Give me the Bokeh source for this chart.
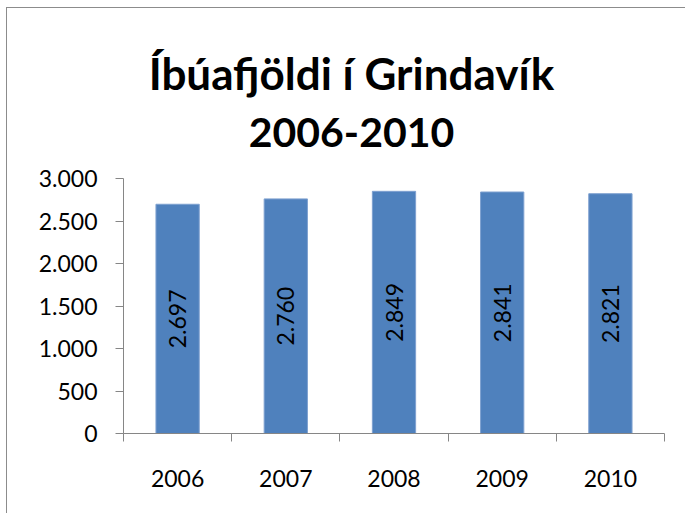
import math
from bokeh.plotting import figure
from bokeh.models import Range1d, FixedTicker, ColumnDataSource
from bokeh.core.properties import value
from bokeh.embed import file_html
from bokeh.resources import INLINE

title_line1 = "Íbúafjöldi í Grindavík"
title_line2 = "2006-2010"
years = ["2006", "2007", "2008", "2009", "2010"]
population = [2697, 2760, 2849, 2841, 2821]
population_labels = ["2.697", "2.760", "2.849", "2.841", "2.821"]
y_ticks = [0, 500, 1000, 1500, 2000, 2500, 3000]
y_tick_labels = ["0", "500", "1.000", "1.500", "2.000", "2.500", "3.000"]

FONT = "Lato"
AXIS_COLOR = "#868686"

# layout (page pixels)
ORIGIN_X, ORIGIN_Y = 7, 8
W, H = 690, 515
FRAME_L, FRAME_R = 123, 664
FRAME_TOP, AXIS_TOP, AXIS_BOTTOM = 18, 178, 433
TITLE_CX, TITLE1_BASE, TITLE2_BASE = 351, 72, 132

y_max = y_ticks[-1]
units_per_px = y_max / (AXIS_BOTTOM - AXIS_TOP)
y_top = y_max + (AXIS_TOP - FRAME_TOP) * units_per_px
x0, x1 = 0.5, len(years) + 0.5
title_x = x0 + (TITLE_CX - FRAME_L) / (FRAME_R - FRAME_L) * (x1 - x0)
title1_y = y_max + (AXIS_TOP - TITLE1_BASE) * units_per_px
title2_y = y_max + (AXIS_TOP - TITLE2_BASE) * units_per_px

xpos = [i + 1 for i in range(len(years))]
src = ColumnDataSource(dict(
    x=xpos, top=population, mid=[v / 2 for v in population], lab=population_labels))

p = figure(width=W, height=H, output_backend="svg", toolbar_location=None,
           x_range=Range1d(x0, x1), y_range=Range1d(0, y_top),
           min_border_left=FRAME_L - ORIGIN_X, min_border_right=ORIGIN_X + W - FRAME_R,
           min_border_top=FRAME_TOP - ORIGIN_Y,
           min_border_bottom=ORIGIN_Y + H - AXIS_BOTTOM)
p.styles = {"margin-left": f"{ORIGIN_X}px", "margin-top": f"{ORIGIN_Y}px",
            "box-shadow": "-1px -1px 0 0 #8c8c8c"}
p.outline_line_color = None
p.xgrid.visible = False
p.ygrid.visible = False
p.background_fill_color = "white"
p.border_fill_color = "white"

p.vbar(x="x", top="top", width=0.4, bottom=0, source=src,
       fill_color="#4F81BD", line_color="#7FA1D0", line_width=1)
p.text(x="x", y="mid", text="lab", source=src, angle=math.pi / 2,
       text_align="center", text_baseline="middle",
       text_font=value(FONT), text_font_size="23px", text_color="black")

# chart title (two lines)
p.text(x=[title_x], y=[title1_y], text=[title_line1], text_align="center",
       text_baseline="alphabetic", text_font=value(FONT), text_font_size="44px",
       text_font_style="bold", text_color="black")
p.text(x=[title_x], y=[title2_y], text=[title_line2], text_align="center",
       text_baseline="alphabetic", text_font=value(FONT), text_font_size="41px",
       text_font_style="bold", text_color="black")

# x axis
xa = p.xaxis[0]
xa.ticker = FixedTicker(ticks=xpos, minor_ticks=[x - 0.5 for x in xpos] + [xpos[-1] + 0.5])
xa.major_label_overrides = {x: y for x, y in zip(xpos, years)}
xa.major_tick_out = 0
xa.major_tick_in = 0
xa.minor_tick_out = 8
xa.minor_tick_in = 0
xa.axis_line_color = AXIS_COLOR
xa.minor_tick_line_color = AXIS_COLOR
xa.major_label_standoff = 28
xa.major_label_text_font = FONT
xa.major_label_text_font_size = "23px"
xa.major_label_text_color = "black"

# y axis
ya = p.yaxis[0]
ya.ticker = FixedTicker(ticks=y_ticks)
ya.bounds = (0, y_max)
ya.major_label_overrides = {t: l for t, l in zip(y_ticks, y_tick_labels)}
ya.major_tick_out = 8
ya.major_tick_in = 0
ya.minor_tick_line_color = None
ya.axis_line_color = AXIS_COLOR
ya.major_tick_line_color = AXIS_COLOR
ya.major_label_standoff = 18
ya.major_label_text_font = FONT
ya.major_label_text_font_size = "23px"
ya.major_label_text_color = "black"

open("out.html", "w").write(file_html(p, INLINE))
